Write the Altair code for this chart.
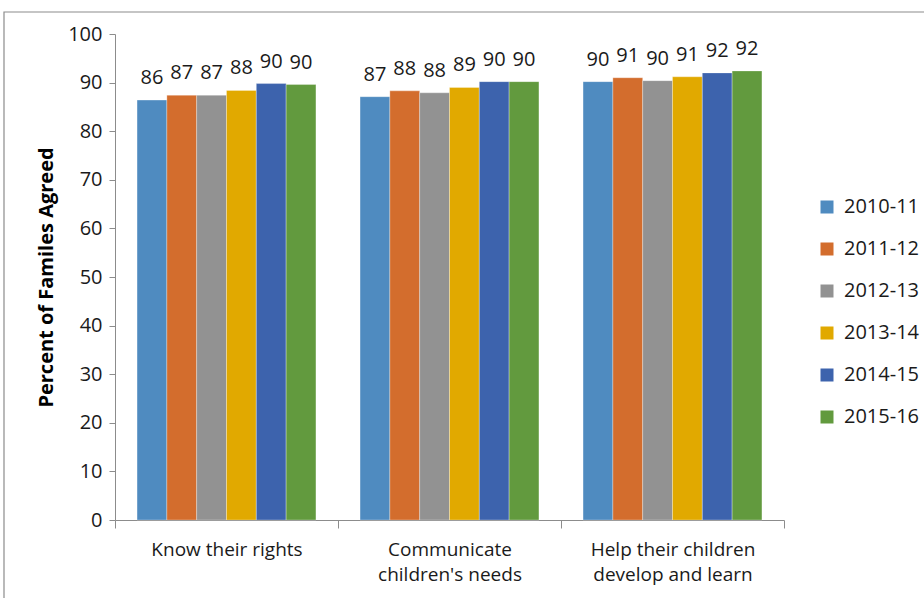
import altair as alt
import pandas as pd

categories = ["Know their rights", "Communicate children's needs", "Help their children develop and learn"]
category_lines = [["Know their rights"], ["Communicate", "children's needs"], ["Help their children", "develop and learn"]]
years = ["2010-11", "2011-12", "2012-13", "2013-14", "2014-15", "2015-16"]
colors = ["#4F8BC0", "#D36D2D", "#929292", "#E1A900", "#3D63AD", "#629A3E"]

know_rights = [86.4, 87.4, 87.4, 88.4, 89.8, 89.6]
communicate = [87.1, 88.3, 87.9, 89.0, 90.2, 90.2]
help_learn = [90.2, 91.0, 90.4, 91.2, 92.0, 92.4]
shown_labels = [
    [86, 87, 87, 88, 90, 90],
    [87, 88, 88, 89, 90, 90],
    [90, 91, 90, 91, 92, 92],
]
y_ticks = [0, 10, 20, 30, 40, 50, 60, 70, 80, 90, 100]

rows = []
for ci, (cat, vals) in enumerate(zip(categories, [know_rights, communicate, help_learn])):
    for yi, (yr, v) in enumerate(zip(years, vals)):
        rows.append({"category": cat, "year": yr, "value": v, "label": str(shown_labels[ci][yi])})
df = pd.DataFrame(rows)

label_expr = " : ".join(
    [f"datum.label == {cat!r} ? {lines!r}" for cat, lines in zip(categories, category_lines)]
) + " : datum.label"
label_expr = label_expr.replace("\"children's needs\"", "'children\\'s needs'")

FONT = "Open Sans"

x = alt.X(
    "category:N",
    sort=categories,
    title=None,
    scale=alt.Scale(paddingInner=0, paddingOuter=0),
    axis=alt.Axis(
        labelAngle=0,
        labelExpr=label_expr,
        labelFont=FONT,
        labelFontSize=19,
        labelColor="#1a1a1a",
        labelLineHeight=25,
        labelPadding=12,
        labelBaseline="top",
        tickBand="extent",
        tickSize=8,
        tickColor="#8c8c8c",
        domainColor="#8c8c8c",
        domainWidth=1,
        tickWidth=1,
        grid=False,
    ),
)
xoff = alt.XOffset("year:N", sort=years, scale=alt.Scale(paddingInner=0, paddingOuter=0.74))
y = alt.Y(
    "value:Q",
    scale=alt.Scale(domain=[0, 100], nice=False),
    title="Percent of Familes Agreed",
    axis=alt.Axis(
        values=y_ticks,
        grid=False,
        tickSize=6,
        tickColor="#8c8c8c",
        domainColor="#8c8c8c",
        labelFont=FONT,
        labelFontSize=20,
        labelColor="#1a1a1a",
        labelPadding=7,
        titleFont=FONT,
        titleFontSize=20,
        titleFontWeight="bold",
        titleColor="#000000",
        titlePadding=11,
    ),
)
color = alt.Color(
    "year:N",
    sort=years,
    scale=alt.Scale(domain=years, range=colors),
    legend=alt.Legend(
        title=None,
        orient="none",
        legendX=702,
        legendY=163,
        symbolType="square",
        symbolSize=169,
        symbolStrokeWidth=0,
        labelFont=FONT,
        labelFontSize=20,
        labelColor="#1a1a1a",
        labelOffset=7,
        rowPadding=22,
    ),
)

bars = alt.Chart(df).mark_bar(stroke="white", strokeWidth=0.3).encode(x=x, xOffset=xoff, y=y, color=color)
text = alt.Chart(df).mark_text(baseline="bottom", dy=-12, font=FONT, fontSize=20, color="#1a1a1a").encode(
    x=x, xOffset=xoff, y=y, text="label:N"
)
frame = alt.Chart(pd.DataFrame({"a": [0]})).mark_rect(fill=None, stroke="#8c8c8c", strokeWidth=1.2).encode(
    x=alt.value(-111), x2=alt.value(830), y=alt.value(-22), y2=alt.value(600)
)

chart = (
    alt.layer(frame, bars, text)
    .properties(
        width=669,
        height=486,
        autosize=alt.AutoSizeParams(type="none"),
        padding={"left": 115, "top": 34, "right": 140, "bottom": 78},
        background="white",
    )
    .configure_view(stroke=None)
)

chart.save("out.html", embed_options={"renderer": "svg", "actions": False})
